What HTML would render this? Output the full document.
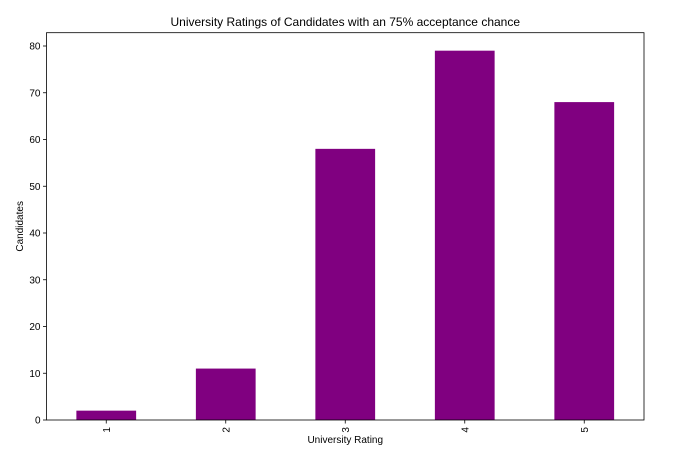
<!DOCTYPE html>
<html><head><meta charset="utf-8"><style>
body{margin:0;background:#fff;font-family:"Liberation Sans",sans-serif}
</style></head><body>
<svg id="c" width="675" height="452" xmlns="http://www.w3.org/2000/svg" font-family="Liberation Sans, sans-serif"></svg>
<script>
const categories=["1","2","3","4","5"];
const values=[2,11,58,79,68];
const yTicks=[0,10,20,30,40,50,60,70,80];
const L=46.5,R=644,T=32.7,B=420;
const svg=document.getElementById('c');
const NS="http://www.w3.org/2000/svg";
function y(v){return B-v*4.675;}
const step=(R-L)/categories.length;
function xc(i){return L+step*(i+0.5);}
function mk(tag,attrs,txt){const e=document.createElementNS(NS,tag);for(const k in attrs)e.setAttribute(k,attrs[k]);if(txt!==undefined)e.textContent=txt;svg.appendChild(e);return e;}
let t=mk('text',{x:(L+R)/2,y:26,'text-anchor':'middle','font-size':12,fill:'#000'},'University Ratings of Candidates with an 75% acceptance chance');


values.forEach((v,i)=>{
 const w=step*0.5;
 const r=mk('rect',{x:xc(i)-w/2,y:y(v),width:w,height:B-y(v),fill:'#800080'});
 
 
 mk('line',{x1:xc(i),x2:xc(i),y1:B,y2:B+3.5,stroke:'#000','stroke-width':0.8});
 const lb=mk('text',{x:0,y:0,transform:`translate(${xc(i)+3.5},${B+7}) rotate(-90)`,'text-anchor':'end','font-size':10,fill:'#000'},categories[i]);
 
 
});
yTicks.forEach(v=>{
 mk('line',{x1:L-3.5,x2:L,y1:y(v),y2:y(v),stroke:'#000','stroke-width':0.8});
 const lb=mk('text',{x:L-6,y:y(v)+3.5,'text-anchor':'end','font-size':10,fill:'#000'},v);
 
 
});
const fr=mk('rect',{x:L,y:T,width:R-L,height:B-T,fill:'none',stroke:'#000','stroke-width':0.8});


const xl=mk('text',{x:(L+R)/2,y:443,'text-anchor':'middle','font-size':10,fill:'#000'},'University Rating');


const yl=mk('text',{x:0,y:0,transform:`translate(23,${(T+B)/2}) rotate(-90)`,'text-anchor':'middle','font-size':10,fill:'#000'},'Candidates');


</script>
</body></html>
